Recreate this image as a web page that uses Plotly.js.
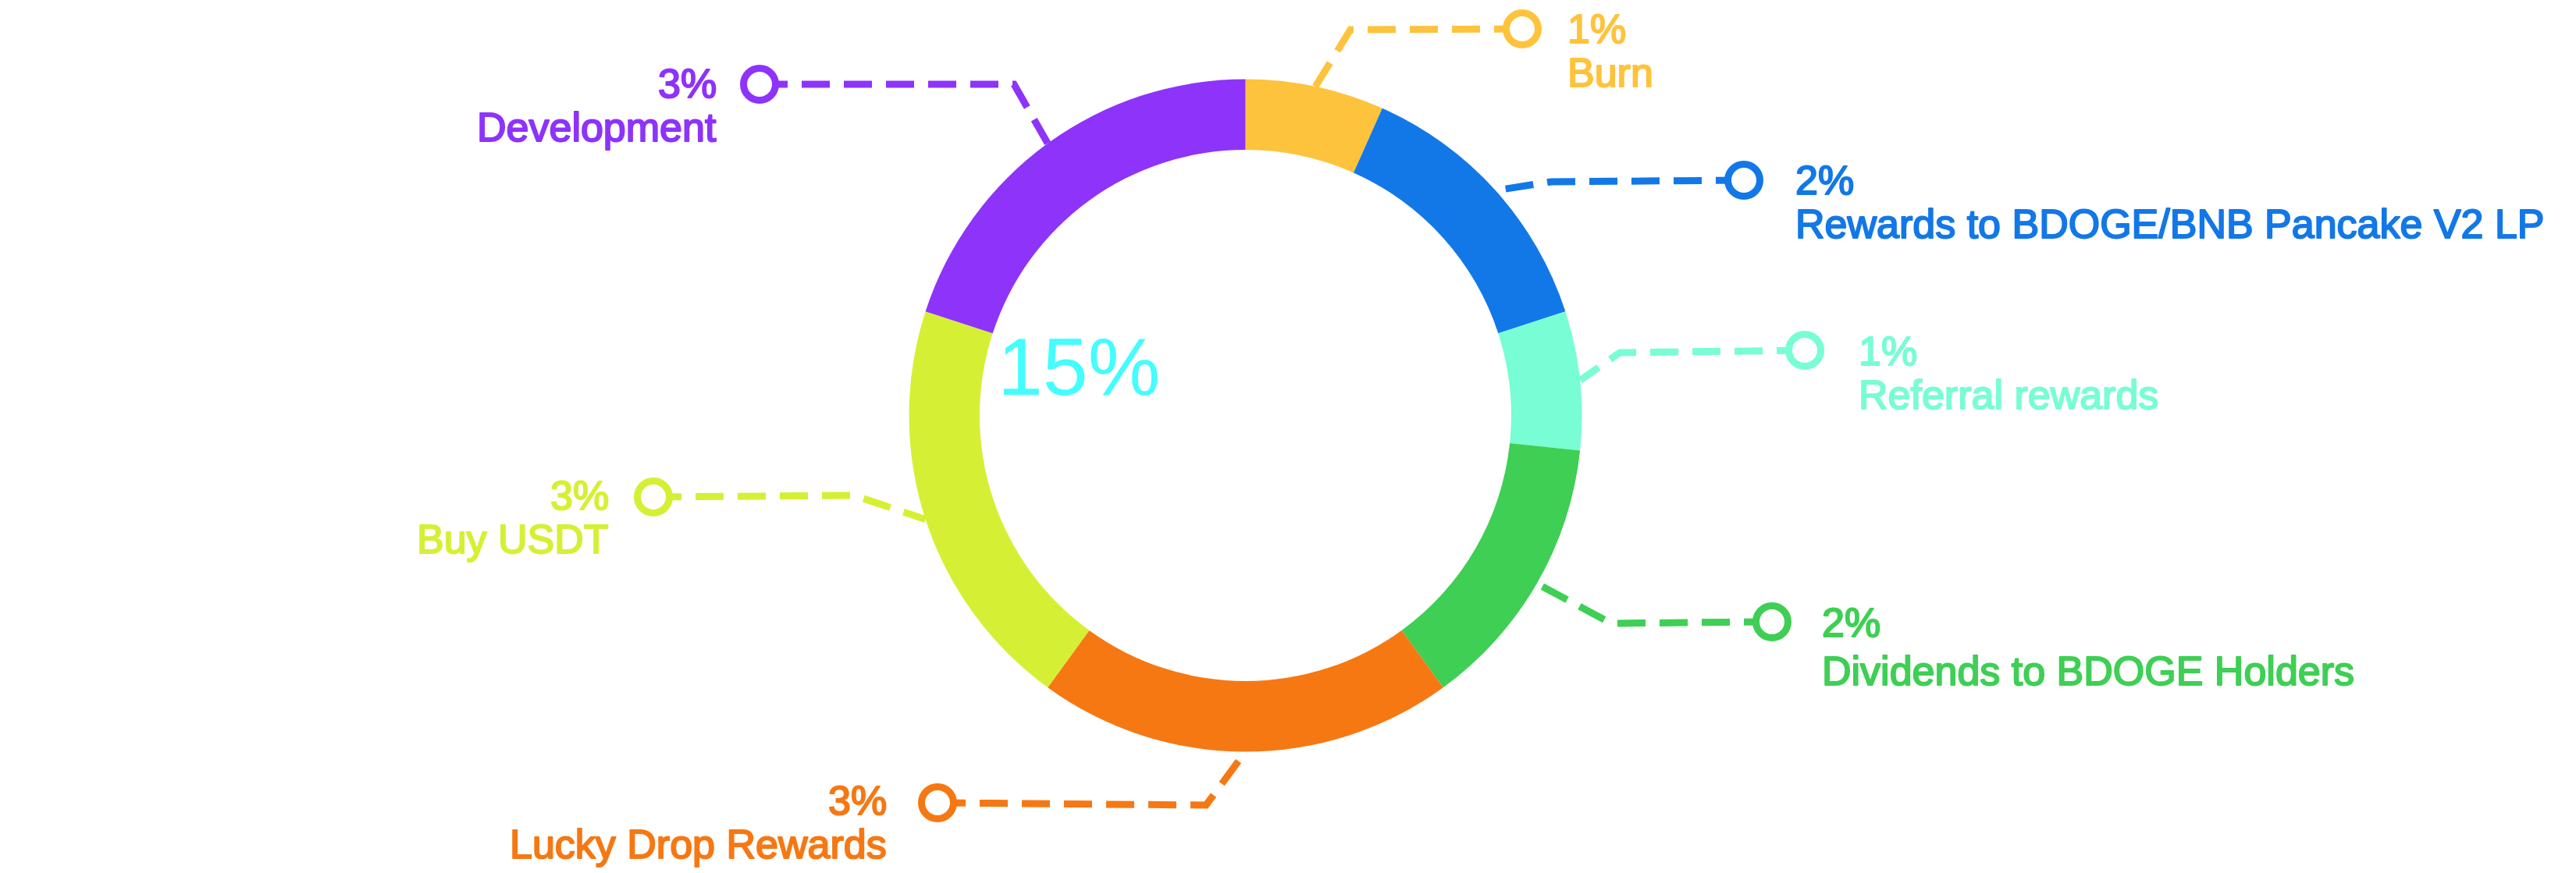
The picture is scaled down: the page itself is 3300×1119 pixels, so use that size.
<!DOCTYPE html>
<html><head><meta charset="utf-8">
<script src="https://cdn.plot.ly/plotly-3.0.1.min.js"></script>
<style>html,body{margin:0;padding:0;background:#fff;}#chart{width:3300px;height:1119px;}</style>
</head><body><div id="chart"></div>
<script>
// ---- data ----
const labels = ['Burn','Rewards to BDOGE/BNB Pancake V2 LP','Referral rewards','Dividends to BDOGE Holders','Lucky Drop Rewards','Buy USDT','Development'];
const values = [1,2,1,2,3,3,3];
const percentTexts = ['1%','2%','1%','2%','3%','3%','3%'];
const sliceColors = ['#FEC33C','#1378E7','#78FDD4','#3ECF54','#F67813','#D5F034','#8E33FA'];
const totalText = '15%';

// ---- layout (pixel positions of callouts) ----
const W = 3300, H = 1119;
const pieCenter = [1595.5, 532.5], pieRadius = 431, holeFrac = 0.79;
const markerPts = [[1950,37],[2234,231],[2312,449],[2270,797],[1201,1029],[837,637],[973,108]];
const elbowPts  = [[1730,38],[1987,233],[2075,452],[2064,799],[1545,1032],[1094,635],[1299,108]];
const labelSide = ['left','left','left','left','right','right','right'];
const textX = [2006,2298,2379,2332,1138,782,920];
const pctY  = [37.5,231.5,450,798,1028.5,638,109.5];
const nameY = [92.5,287,505,859.5,1079.5,688.5,159.5];
const FONT = 'Liberation Sans, Arial, Helvetica, sans-serif';
const MIN_GAP = 56;

const total = values.reduce((a,b)=>a+b,0);
let cum = 0;
const anchorPts = values.map(v => {
  const ang = (cum + v/2) / total * 2 * Math.PI; cum += v;
  return [pieCenter[0] + pieRadius*Math.sin(ang), pieCenter[1] - pieRadius*Math.cos(ang)];
});

const traces = [];
labels.forEach((lab,i) => {
  traces.push({
    type:'scatter', mode:'lines', xaxis:'x', yaxis:'y',
    x:[markerPts[i][0], elbowPts[i][0], anchorPts[i][0]],
    y:[markerPts[i][1], elbowPts[i][1], anchorPts[i][1]],
    line:{color:sliceColors[i], width:9, dash:'36px,18px'},
    hoverinfo:'skip', showlegend:false
  });
});
traces.push({
  type:'scatter', mode:'markers', xaxis:'x', yaxis:'y',
  x: markerPts.map(p=>p[0]), y: markerPts.map(p=>p[1]),
  marker:{symbol:'circle', size:41, color:'#ffffff', line:{color:sliceColors, width:9}},
  hoverinfo:'skip', showlegend:false
});
traces.push({
  type:'pie', labels:labels, values:values, sort:false, direction:'clockwise', rotation:0,
  hole:holeFrac, textinfo:'none', hoverinfo:'label+percent',
  marker:{colors:sliceColors, line:{width:0}},
  domain:{x:[(pieCenter[0]-pieRadius)/W,(pieCenter[0]+pieRadius)/W],
          y:[1-(pieCenter[1]+pieRadius)/H, 1-(pieCenter[1]-pieRadius)/H]},
  showlegend:false
});

const annotations = [];
labels.forEach((lab,i) => {
  let py = pctY[i], ny = nameY[i];
  const gap = ny - py;
  if (gap < MIN_GAP) { const d = (MIN_GAP - gap)/2; py -= d; ny += d; }
  const common = {xref:'x', yref:'y', showarrow:false, xanchor:labelSide[i], yanchor:'middle', align:labelSide[i]};
  annotations.push(Object.assign({}, common, {x:textX[i], y:py, text:percentTexts[i], font:{family:FONT, size:52, color:sliceColors[i]}}));
  annotations.push(Object.assign({}, common, {x:textX[i], y:ny, text:lab, font:{family:FONT, size:52, color:sliceColors[i]}}));
});
annotations.push({xref:'x', yref:'y', x:1382, y:470, showarrow:false, xanchor:'center', yanchor:'middle',
  text:totalText, font:{family:FONT, size:104, color:'#43FDFE'}});

const layout = {
  width:W, height:H, margin:{l:0,r:0,t:0,b:0},
  paper_bgcolor:'#ffffff', plot_bgcolor:'#ffffff',
  xaxis:{range:[0,W], visible:false, fixedrange:true},
  yaxis:{range:[H,0], visible:false, fixedrange:true},
  annotations:annotations, showlegend:false
};
Plotly.newPlot('chart', traces, layout, {displayModeBar:false, staticPlot:true}).then(gd => {
  // slightly heavier strokes for the callout labels (not the centre total)
  gd.querySelectorAll('.annotation-text').forEach(t => {
    if (t.textContent === totalText) return;
    t.style.stroke = t.style.fill;
    t.style.strokeWidth = '2px';
    t.style.strokeLinejoin = 'round';
  });
});
</script></body></html>
